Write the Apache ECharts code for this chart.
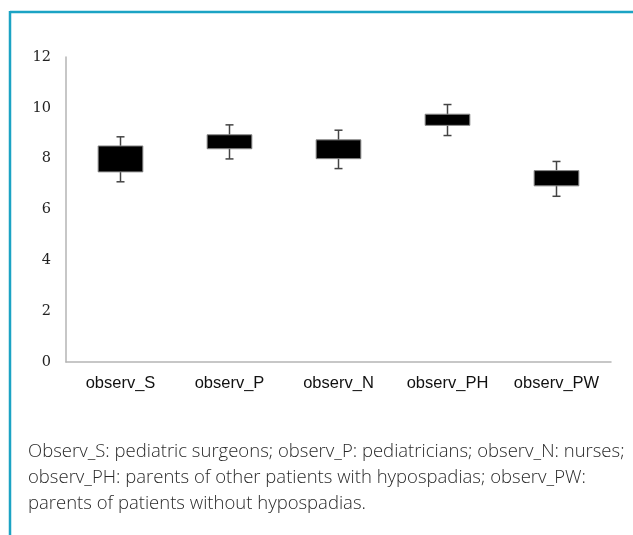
<!DOCTYPE html>
<html>
<head>
<meta charset="utf-8">
<script src="https://cdn.jsdelivr.net/npm/echarts@6/dist/echarts.min.js"></script>
<style>
html,body{margin:0;padding:0;background:#fff;}
#chart{width:633px;height:535px;}
</style>
</head>
<body>
<div id="chart"></div>
<script>
const categories = ['observ_S', 'observ_P', 'observ_N', 'observ_PH', 'observ_PW'];
const whiskerLow = [7.09, 7.99, 7.61, 8.91, 6.52];
const boxLow = [7.48, 8.39, 8.00, 9.31, 6.93];
const boxHigh = [8.50, 8.94, 8.74, 9.75, 7.53];
const whiskerHigh = [8.86, 9.33, 9.12, 10.13, 7.89];
const yTicks = [0, 2, 4, 6, 8, 10, 12];
const captionLines = [
  'Observ_S: pediatric surgeons; observ_P: pediatricians; observ_N: nurses;',
  'observ_PH: parents of other patients with hypospadias; observ_PW:',
  'parents of patients without hypospadias.'
];

const data = categories.map((c, i) => [i, whiskerLow[i], boxLow[i], boxHigh[i], whiskerHigh[i]]);

const chart = echarts.init(document.getElementById('chart'));
chart.setOption({
  animation: false,
  backgroundColor: '#fff',
  grid: { left: 66, right: 22, top: 57, bottom: 173 },
  xAxis: {
    type: 'category',
    data: categories,
    axisLine: { lineStyle: { color: '#b5b5b5', width: 1.5 } },
    axisTick: { show: false },
    axisLabel: { interval: 0, hideOverlap: false, margin: 13, fontFamily: 'Liberation Sans', fontSize: 16.5, color: '#111' }
  },
  yAxis: {
    type: 'value',
    min: yTicks[0],
    max: yTicks[yTicks.length - 1],
    interval: 2,
    axisLine: { show: true, lineStyle: { color: '#b5b5b5', width: 1.5 } },
    axisTick: { show: false },
    splitLine: { show: false },
    axisLabel: { margin: 15, fontFamily: 'DejaVu Serif', fontSize: 14.5, color: '#222' }
  },
  series: [{
    type: 'custom',
    data: data,
    encode: { x: 0, y: [1, 2, 3, 4] },
    renderItem: function (params, api) {
      const x = api.value(0);
      const pLow = api.coord([x, api.value(1)]);
      const pQ1 = api.coord([x, api.value(2)]);
      const pQ3 = api.coord([x, api.value(3)]);
      const pHigh = api.coord([x, api.value(4)]);
      const bw = api.size([1, 0])[0] * 0.41;
      const cw = 8;
      const cx = pLow[0];
      const wStyle = { stroke: '#444', lineWidth: 1.5 };
      return {
        type: 'group',
        children: [
          { type: 'line', shape: { x1: cx, y1: pHigh[1], x2: cx, y2: pLow[1] }, style: wStyle },
          { type: 'line', shape: { x1: cx - cw / 2, y1: pHigh[1], x2: cx + cw / 2, y2: pHigh[1] }, style: wStyle },
          { type: 'line', shape: { x1: cx - cw / 2, y1: pLow[1], x2: cx + cw / 2, y2: pLow[1] }, style: wStyle },
          { type: 'rect', shape: { x: cx - bw / 2, y: pQ3[1], width: bw, height: pQ1[1] - pQ3[1] },
            style: { fill: '#000', stroke: '#888', lineWidth: 1 } }
        ]
      };
    }
  }],
  graphic: [
    { type: 'line', shape: { x1: 10, y1: 12, x2: 633, y2: 12 }, style: { stroke: '#1ba3c4', lineWidth: 2.5 } },
    { type: 'line', shape: { x1: 10, y1: 11, x2: 10, y2: 535 }, style: { stroke: '#1ba3c4', lineWidth: 2.5 } },
    { type: 'text', left: 28, top: 439,
      style: { text: captionLines.join('\n'), fontFamily: 'Open Sans', fontWeight: 300, fontSize: 18.5, lineHeight: 26, fill: '#2a2a2a' } }
  ]
});
</script>
</body>
</html>
